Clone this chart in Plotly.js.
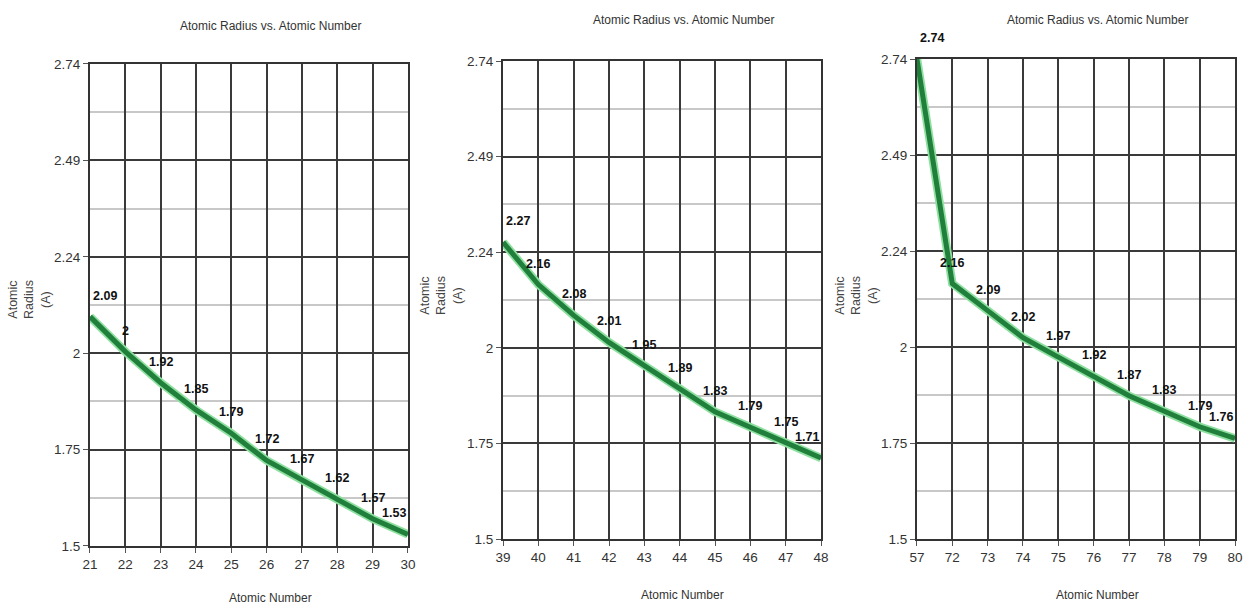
<!DOCTYPE html>
<html><head><meta charset="utf-8">
<script src="https://cdn.plot.ly/plotly-3.0.1.min.js"></script>
<style>html,body{margin:0;padding:0;background:#fff}#chart{width:1243px;height:607px}</style>
</head><body><div id="chart"></div>
<script>
// Data
const numbers1 = ["21","22","23","24","25","26","27","28","29","30"];
const radius1  = [2.09, 2.00, 1.92, 1.85, 1.79, 1.72, 1.67, 1.62, 1.57, 1.53];
const numbers2 = ["39","40","41","42","43","44","45","46","47","48"];
const radius2  = [2.27, 2.16, 2.08, 2.01, 1.95, 1.89, 1.83, 1.79, 1.75, 1.71];
const numbers3 = ["57","72","73","74","75","76","77","78","79","80"];
const radius3  = [2.74, 2.16, 2.09, 2.02, 1.97, 1.92, 1.87, 1.83, 1.79, 1.76];
const yTickVals = [1.5, 1.748, 1.996, 2.244, 2.492, 2.74];
const yTickText = ["1.5", "1.75", "2", "2.24", "2.49", "2.74"];
const yMinorVals = [1.624, 1.872, 2.12, 2.368, 2.616];
const chartTitle = "Atomic Radius vs. Atomic Number";
const xTitle = "Atomic Number";
const yTitle = "Atomic<br>Radius<br>(A)";

const FONT = "'Liberation Sans Narrow', 'Arial Narrow', 'Liberation Sans', Arial, sans-serif";
const dark = "#1f7f3b", halo = "#8fe0a0";

const sets = [[numbers1, radius1], [numbers2, radius2], [numbers3, radius3]];
const traces = [];
const annotations = [];
sets.forEach((s, i) => {
  const xa = i === 0 ? "x" : "x" + (i + 1);
  const ya = i === 0 ? "y" : "y" + (i + 1);
  traces.push({x: s[0], y: s[1], xaxis: xa, yaxis: ya, type: "scatter", mode: "lines",
    line: {color: halo, width: 8.5}, hoverinfo: "skip", showlegend: false, cliponaxis: false});
  traces.push({x: s[0], y: s[1], xaxis: xa, yaxis: ya, type: "scatter", mode: "lines",
    line: {color: dark, width: 5}, showlegend: false, cliponaxis: false});
  const n = s[0].length;
  s[0].forEach((xv, k) => {
    // category axes place annotations by category index
    annotations.push({xref: xa, yref: ya, x: k, y: s[1][k], text: String(s[1][k]), showarrow: false,
      xanchor: "center", yanchor: "middle", yshift: 21, xshift: k === 0 ? 15 : (k === n - 1 ? -14 : 0),
      font: {family: FONT, size: 12.5, color: "#111", weight: "bold"}});
  });
});

const xDomains = [[0.0724, 0.3282], [0.4047, 0.6605], [0.7377, 0.9936]];
const yDomains = [[0.1005, 0.8946], [0.112, 0.8995], [0.112, 0.9028]];

function xaxis(i) {
  return {domain: xDomains[i], type: "category", range: [0, 9], anchor: i === 0 ? "y" : "y" + (i + 1),
    showgrid: true, gridcolor: "#3a3a3a", gridwidth: 2, showline: true, linecolor: "#333", linewidth: 2,
    mirror: true, ticks: "outside", ticklen: 5, tickcolor: "#555",
    tickfont: {family: FONT, size: 13.5, color: "#333"}, zeroline: false, fixedrange: true};
}
function yaxis(i) {
  return {domain: yDomains[i], range: [1.5, 2.74], anchor: i === 0 ? "x" : "x" + (i + 1),
    tickvals: yTickVals, ticktext: yTickText, showgrid: true, gridcolor: "#3a3a3a", gridwidth: 2,
    minor: {tickvals: yMinorVals, showgrid: true, gridcolor: "#c8c8c8", gridwidth: 2, ticks: ""},
    showline: true, linecolor: "#333", linewidth: 2, mirror: true, ticks: "outside", ticklen: 5,
    tickcolor: "#555", tickfont: {family: FONT, size: 13.5, color: "#333"}, zeroline: false, fixedrange: true};
}

const titlePos = [[270, 26], [683, 20], [1097, 20]];
const xTitlePos = [[270, 598], [682, 595], [1097, 595]];
const yTitlePos = [[29, 300], [441, 296], [856, 296]];
for (let i = 0; i < 3; i++) {
  annotations.push({text: chartTitle, xref: "paper", yref: "paper", x: titlePos[i][0] / 1243, y: 1 - titlePos[i][1] / 607,
    showarrow: false, xanchor: "center", yanchor: "middle", font: {family: FONT, size: 12, color: "#333"}});
  annotations.push({text: xTitle, xref: "paper", yref: "paper", x: xTitlePos[i][0] / 1243, y: 1 - xTitlePos[i][1] / 607,
    showarrow: false, xanchor: "center", yanchor: "middle", font: {family: FONT, size: 12, color: "#333"}});
  annotations.push({text: yTitle, xref: "paper", yref: "paper", x: yTitlePos[i][0] / 1243, y: 1 - yTitlePos[i][1] / 607,
    showarrow: false, xanchor: "center", yanchor: "middle", textangle: -90, align: "center",
    font: {family: FONT, size: 12.5, color: "#444"}});
}

const layout = {
  width: 1243, height: 607, margin: {l: 0, r: 0, t: 0, b: 0},
  paper_bgcolor: "#fff", plot_bgcolor: "#fff", showlegend: false,
  xaxis: xaxis(0), xaxis2: xaxis(1), xaxis3: xaxis(2),
  yaxis: yaxis(0), yaxis2: yaxis(1), yaxis3: yaxis(2),
  annotations: annotations
};
Plotly.newPlot("chart", traces, layout, {displayModeBar: false, staticPlot: true});
</script></body></html>
